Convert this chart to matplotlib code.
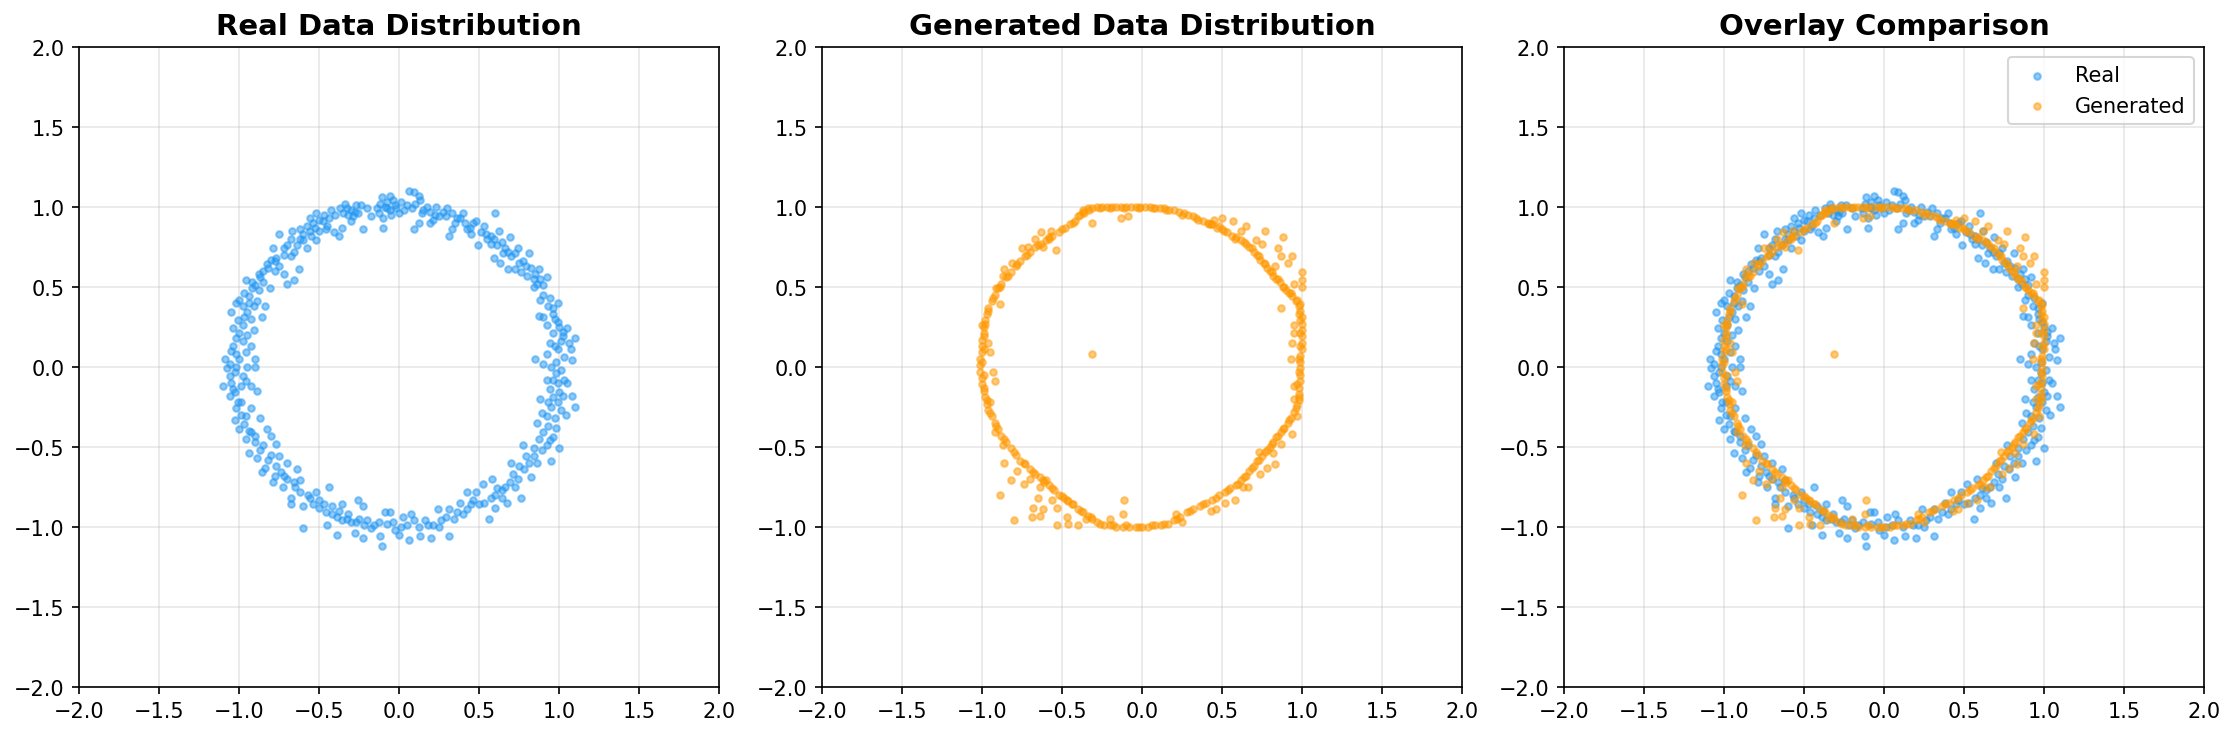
import numpy as np
import matplotlib
matplotlib.use("Agg")
import matplotlib.pyplot as plt

# real samples
real_pts = [
    (0.06, 1.10), (0.09, 1.09), (0.12, 1.07), (0.13, 1.04), (-0.06, 1.07), (-0.11, 1.06),
    (-0.08, 1.03), (-0.04, 1.04), (-0.02, 0.99), (-0.10, 0.87), (-0.10, 0.93), (-0.23, 0.86),
    (-0.27, 1.01), (-0.33, 0.99), (-0.34, 1.02), (-0.29, 0.94), (-0.37, 0.99), (-0.43, 0.98),
    (-0.52, 0.96), (-0.56, 0.93), (-0.48, 0.91), (-0.38, 0.82), (-0.41, 0.84), (-0.62, 0.86),
    (-0.67, 0.85), (-0.75, 0.83), (-0.68, 0.80), (-0.56, 0.85), (-0.58, 0.74), (-0.64, 0.76),
    (-0.79, 0.74), (-0.80, 0.67), (-0.83, 0.64), (-0.75, 0.63), (-0.63, 0.61), (-0.70, 0.52),
    (-0.66, 0.54), (-0.87, 0.56), (-0.96, 0.54), (-0.81, 0.49), (-0.92, 0.49), (-1.00, 0.42),
    (-1.02, 0.40), (-0.91, 0.38), (-0.84, 0.38), (-1.05, 0.34), (-0.95, 0.34), (-0.86, 0.31),
    (-1.04, 0.24), (-0.98, 0.26), (-0.91, 0.23), (-1.04, 0.13), (-0.98, 0.16), (-0.93, 0.13),
    (-1.09, 0.05), (-1.05, 0.10), (-1.00, 0.05), (-0.90, 0.05), (-1.08, -0.01), (-1.02, 0.00),
    (-0.90, -0.00), (-1.06, -0.06), (-0.98, -0.06), (-1.10, -0.12), (-1.04, -0.14), (-0.99, -0.12),
    (-0.93, -0.12), (-0.89, -0.15), (-1.06, -0.18), (-0.99, -0.22), (-1.02, -0.26), (-0.93, -0.26),
    (-1.03, -0.33), (-0.96, -0.31), (-0.87, -0.32), (-1.00, -0.39), (-0.93, -0.41), (-0.83, -0.39),
    (-0.96, -0.45), (-0.90, -0.43), (-0.80, -0.43), (-0.94, -0.54), (-0.85, -0.49), (-0.77, -0.48),
    (-0.89, -0.57), (-0.80, -0.55), (-0.75, -0.56), (-0.86, -0.66), (-0.84, -0.63), (-0.70, -0.60),
    (-0.78, -0.68), (-0.74, -0.66), (-0.64, -0.64), (-0.79, -0.72), (-0.70, -0.70), (-0.73, -0.75),
    (-0.65, -0.75), (-0.62, -0.71), (-0.68, -0.82), (-0.68, -0.86), (-0.60, -0.87), (-0.60, -1.01),
    (-0.56, -0.82), (-0.52, -0.78), (-0.44, -0.75), (-0.50, -0.83), (-0.50, -0.88), (-0.46, -0.91),
    (-0.42, -0.87), (-0.45, -0.99), (-0.39, -0.94), (-0.39, -1.05), (-0.36, -0.86), (-0.36, -0.96),
    (-0.32, -0.92), (-0.28, -1.04), (-0.26, -0.83), (-0.27, -0.97), (-0.23, -0.87), (-0.23, -1.07),
    (-0.20, -0.96), (-0.16, -0.99), (-0.12, -1.06), (-0.11, -1.12), (-0.09, -0.91), (-0.06, -0.91),
    (-0.04, -0.97), (0.00, -1.05), (0.02, -0.94), (0.06, -1.08), (0.07, -0.92), (0.09, -0.96),
    (0.13, -1.06), (0.16, -0.96), (0.20, -1.07), (0.21, -0.99), (0.24, -0.89), (0.25, -1.00),
    (0.31, -1.06), (0.31, -0.89), (0.34, -0.95), (0.38, -0.85), (0.42, -0.89), (0.42, -0.78),
    (0.46, -0.83), (0.48, -0.78), (0.52, -0.73), (0.56, -0.95), (0.53, -0.85), (0.58, -0.70),
    (0.60, -0.88), (0.61, -0.76), (0.64, -0.82), (0.66, -0.75), (0.67, -0.85), (0.70, -0.60),
    (0.71, -0.67), (0.72, -0.75), (0.76, -0.82), (0.75, -0.62), (0.77, -0.49), (0.79, -0.56),
    (0.82, -0.69), (0.84, -0.51), (0.86, -0.60), (0.87, -0.45), (0.86, -0.35), (0.92, -0.49),
    (0.96, -0.44), (1.00, -0.51), (0.95, -0.59), (0.93, -0.37), (0.89, -0.29), (0.97, -0.32),
    (0.95, -0.25), (0.88, -0.20), (0.99, -0.22), (1.04, -0.30), (1.10, -0.25), (1.00, -0.16),
    (1.08, -0.18), (0.94, -0.14), (0.96, -0.08), (1.03, -0.08), (0.98, -0.04), (0.92, -0.08),
    (0.90, 0.02), (0.98, 0.03), (1.08, 0.04), (0.85, 0.05), (0.92, 0.08), (0.99, 0.11),
    (1.07, 0.11), (0.94, 0.15), (1.06, 0.15), (1.10, 0.18), (1.02, 0.19), (0.96, 0.21),
    (1.05, 0.24), (0.92, 0.26), (0.99, 0.28), (0.90, 0.31), (0.96, 0.33), (0.87, 0.32),
    (0.93, 0.38), (0.99, 0.40), (0.88, 0.42), (0.84, 0.50), (0.90, 0.51), (0.92, 0.56),
    (0.87, 0.61), (0.84, 0.55), (0.80, 0.57), (0.76, 0.59), (0.72, 0.61), (0.68, 0.61),
    (0.75, 0.65), (0.81, 0.71), (0.74, 0.74), (0.70, 0.69), (0.69, 0.81), (0.65, 0.71),
    (0.63, 0.65), (0.59, 0.68), (0.61, 0.76), (0.57, 0.77), (0.62, 0.85), (0.55, 0.80),
    (0.49, 0.76), (0.53, 0.88), (0.48, 0.91), (0.45, 0.83), (0.42, 0.86), (0.60, 0.96),
    (0.46, 0.90), (0.40, 0.96), (0.36, 0.93), (0.33, 0.86), (0.31, 0.82), (0.30, 0.99),
    (0.25, 0.94), (0.23, 1.00), (0.21, 0.92), (0.19, 0.90), (0.17, 1.00), (0.14, 0.96),
    (0.12, 0.90), (0.09, 0.86), (0.08, 0.99), (0.05, 1.01), (0.00, 0.96), (-0.05, 0.95),
    (-0.08, 0.99), (-0.14, 0.99), (-0.18, 0.94), (-0.20, 0.99), (-0.24, 1.01), (-0.26, 0.96),
    (-0.30, 0.91), (-0.36, 0.87), (-0.45, 0.88), (-0.53, 0.87), (-0.52, 0.79), (-0.60, 0.79),
    (-0.72, 0.74), (-0.68, 0.69), (-0.77, 0.68), (-0.72, 0.58), (-0.85, 0.60), (-0.90, 0.51),
    (-0.94, 0.44), (-0.89, 0.41),
    # denser clusters
    (-0.30, 0.98), (-0.32, 0.95), (-0.28, 0.97), (-0.35, 0.96), (-0.40, 0.95), (-0.44, 0.93),
    (-0.47, 0.95), (-0.50, 0.92), (-0.54, 0.90), (-0.58, 0.88), (-0.46, 0.86), (-0.12, 1.02),
    (-0.09, 1.00), (-0.06, 0.98), (-0.03, 1.01), (0.01, 1.03), (0.03, 0.98), (-0.13, 0.96),
    (0.10, 1.02), (0.15, 0.98), (0.19, 0.97), (0.22, 0.95), (0.27, 0.97), (0.29, 0.94),
    (0.33, 0.96), (0.35, 0.90), (0.38, 0.93), (0.41, 0.90), (0.44, 0.87), (0.51, 0.84),
    (0.54, 0.83), (0.57, 0.82), (0.59, 0.80), (0.64, 0.78), (0.66, 0.74), (0.68, 0.72),
    (0.72, 0.71), (0.77, 0.66), (0.79, 0.63), (0.82, 0.62), (0.85, 0.58), (0.86, 0.52),
    (0.88, 0.55), (0.90, 0.45), (0.94, 0.43), (0.96, 0.37), (0.97, 0.30), (1.00, 0.25),
    (1.02, 0.22), (1.01, 0.16), (0.97, 0.13), (1.03, 0.06), (0.95, 0.00), (1.01, -0.02),
    (1.05, -0.10), (0.99, -0.10), (1.02, -0.18), (0.96, -0.19), (0.93, -0.22), (1.01, -0.27),
    (0.92, -0.31), (0.98, -0.38), (0.90, -0.41), (0.94, -0.46), (0.89, -0.52), (0.84, -0.56),
    (0.81, -0.60), (0.78, -0.64), (0.74, -0.70), (0.69, -0.72), (0.64, -0.77), (0.60, -0.80),
    (0.57, -0.82), (0.50, -0.86), (0.45, -0.86), (0.40, -0.92), (0.36, -0.91), (0.29, -0.94),
    (0.26, -0.96), (0.18, -0.99), (0.12, -1.00), (0.05, -0.99), (0.01, -1.00), (-0.03, -1.02),
    (-0.08, -0.98), (-0.13, -0.97), (-0.18, -1.01), (-0.22, -0.99), (-0.25, -0.95), (-0.30, -0.97),
    (-0.33, -0.95), (-0.38, -0.90), (-0.42, -0.92), (-0.47, -0.86), (-0.54, -0.86), (-0.57, -0.80),
    (-0.62, -0.78), (-0.66, -0.72), (-0.72, -0.68), (-0.77, -0.62), (-0.82, -0.58), (-0.87, -0.52),
    (-0.90, -0.47), (-0.94, -0.40), (-0.97, -0.36), (-0.99, -0.30), (-1.01, -0.22), (-1.03, -0.16),
    (-1.05, -0.10), (-0.96, -0.09), (-1.03, -0.03), (-0.95, 0.00), (-1.06, 0.02), (-1.02, 0.08),
    (-0.96, 0.09), (-1.02, 0.18), (-1.00, 0.21), (-0.95, 0.20), (-1.01, 0.29), (-0.97, 0.31),
    (-0.93, 0.30), (-0.98, 0.38), (-0.94, 0.40), (-0.97, 0.46), (-0.88, 0.48), (-0.92, 0.53),
    (-0.85, 0.53), (-0.88, 0.58), (-0.82, 0.62), (-0.78, 0.60), (-0.78, 0.66), (-0.72, 0.70),
    (-0.70, 0.76), (-0.66, 0.72), (-0.62, 0.80), (-0.60, 0.83), (-0.55, 0.82), (-0.50, 0.85),
]

# generated samples: the tight band plus the stray points
gen_band = [
    (-0.37, 0.97), (-0.40, 0.94), (-0.42, 0.91), (-0.37, 0.98), (-0.34, 0.99), (-0.31, 0.99),
    (-0.28, 1.00), (-0.25, 1.00), (-0.22, 1.00), (-0.19, 1.00), (-0.16, 1.00), (-0.13, 1.00),
    (-0.10, 1.00), (-0.07, 1.00), (-0.04, 1.00), (-0.01, 1.00), (0.02, 1.00), (0.05, 1.00),
    (0.08, 0.99), (0.11, 0.99), (0.14, 0.99), (0.17, 0.98), (0.20, 0.98), (0.23, 0.97),
    (0.26, 0.96), (0.29, 0.95), (0.32, 0.94), (0.35, 0.92), (0.38, 0.91), (0.41, 0.90),
    (0.44, 0.89), (0.47, 0.87), (0.50, 0.86), (0.53, 0.84), (0.56, 0.82), (0.59, 0.81),
    (0.62, 0.79), (0.65, 0.77), (0.67, 0.75), (0.70, 0.72), (0.72, 0.70), (0.74, 0.67),
    (0.76, 0.65), (0.78, 0.62), (0.80, 0.60), (0.82, 0.57), (0.84, 0.55), (0.86, 0.53),
    (0.88, 0.50), (0.90, 0.48), (0.92, 0.46), (0.94, 0.44), (0.96, 0.41), (0.98, 0.38),
    (0.99, 0.35), (1.00, 0.31), (1.00, 0.27), (1.00, 0.23), (1.00, 0.19), (1.00, 0.15),
    (1.00, 0.11), (0.99, 0.07), (0.99, 0.03), (0.99, -0.01), (0.99, -0.05), (0.99, -0.09),
    (0.98, -0.13), (0.98, -0.17), (0.98, -0.21), (0.97, -0.24), (0.95, -0.28), (0.93, -0.32),
    (0.91, -0.35), (0.89, -0.38), (0.87, -0.41), (0.84, -0.44), (0.82, -0.47), (0.80, -0.50),
    (0.77, -0.53), (0.75, -0.56), (0.72, -0.59), (0.70, -0.62), (0.67, -0.65), (0.65, -0.68),
    (0.62, -0.71), (0.59, -0.74), (0.55, -0.76), (0.52, -0.78), (0.48, -0.80), (0.44, -0.83),
    (0.40, -0.85), (0.36, -0.87), (0.32, -0.89), (0.28, -0.91), (0.24, -0.94), (0.20, -0.96),
    (0.16, -0.98), (0.12, -0.99), (0.08, -0.99), (0.04, -1.00), (0.00, -1.00), (-0.04, -1.00),
    (-0.08, -1.00), (-0.12, -1.00), (-0.16, -1.00), (-0.20, -0.99), (-0.24, -0.99), (-0.28, -0.97),
    (-0.31, -0.95), (-0.34, -0.93), (-0.37, -0.91), (-0.40, -0.89), (-0.43, -0.86), (-0.46, -0.84),
    (-0.49, -0.82), (-0.52, -0.80), (-0.55, -0.77), (-0.58, -0.74), (-0.61, -0.72), (-0.64, -0.69),
    (-0.67, -0.67), (-0.70, -0.64), (-0.73, -0.61), (-0.76, -0.59), (-0.79, -0.55), (-0.82, -0.51),
    (-0.85, -0.47), (-0.88, -0.43), (-0.90, -0.39), (-0.92, -0.35), (-0.94, -0.31), (-0.96, -0.27),
    (-0.97, -0.23), (-0.98, -0.19), (-0.99, -0.15), (-1.00, -0.11), (-1.00, -0.07), (-1.01, -0.03),
    (-1.01, 0.01), (-1.01, 0.05), (-1.00, 0.09), (-1.00, 0.13), (-1.00, 0.17), (-0.99, 0.21),
    (-0.99, 0.25), (-0.98, 0.29), (-0.97, 0.33), (-0.96, 0.37), (-0.94, 0.41), (-0.92, 0.45),
    (-0.90, 0.49), (-0.88, 0.52), (-0.85, 0.56), (-0.82, 0.59), (-0.79, 0.63), (-0.76, 0.66),
    (-0.73, 0.69), (-0.70, 0.72), (-0.67, 0.75), (-0.63, 0.77), (-0.60, 0.79), (-0.56, 0.82),
    (-0.52, 0.84), (-0.48, 0.87), (-0.45, 0.89),
    # second pass where the band is thicker
    (-0.36, 0.96), (-0.33, 0.98), (-0.26, 0.99), (-0.20, 0.99), (-0.11, 0.99), (-0.02, 0.99),
    (0.07, 0.99), (0.15, 0.98), (0.25, 0.95), (0.34, 0.93), (0.42, 0.89), (0.51, 0.85),
    (0.58, 0.80), (0.64, 0.78), (0.69, 0.74), (0.73, 0.69), (0.77, 0.64), (0.81, 0.59),
    (0.85, 0.55), (0.89, 0.50), (0.93, 0.46), (0.97, 0.42), (0.99, 0.39), (0.98, 0.33),
    (0.99, 0.29), (0.99, 0.21), (0.99, 0.13), (0.98, 0.05), (0.98, -0.03), (0.97, -0.11),
    (0.98, -0.19), (0.96, -0.26), (0.92, -0.33), (0.88, -0.39), (0.85, -0.43), (0.81, -0.48),
    (0.78, -0.52), (0.73, -0.58), (0.69, -0.63), (0.64, -0.69), (0.60, -0.73), (0.54, -0.77),
    (0.46, -0.82), (0.38, -0.86), (0.30, -0.90), (0.22, -0.95), (0.14, -0.98), (0.06, -0.99),
    (-0.02, -1.00), (-0.10, -0.99), (-0.18, -0.99), (-0.26, -0.98), (-0.32, -0.94), (-0.38, -0.90),
    (-0.44, -0.86), (-0.50, -0.81), (-0.56, -0.76), (-0.62, -0.71), (-0.68, -0.66), (-0.74, -0.60),
    (-0.80, -0.53), (-0.86, -0.45), (-0.91, -0.37), (-0.95, -0.29), (-0.97, -0.21), (-0.99, -0.13),
    (-0.99, -0.05), (-1.00, 0.03), (-0.99, 0.11), (-0.99, 0.19), (-0.98, 0.27), (-0.96, 0.35),
    (-0.93, 0.43), (-0.89, 0.50), (-0.84, 0.57), (-0.78, 0.64), (-0.72, 0.70), (-0.65, 0.76),
    (-0.58, 0.80), (-0.50, 0.86), (-0.43, 0.90), (-0.39, 0.95),
]
gen_stray = [
    (-0.31, 0.90), (-0.13, 0.93), (-0.09, 0.94), (-0.57, 0.85), (-0.63, 0.84), (-0.67, 0.80),
    (-0.75, 0.74), (-0.71, 0.75), (-0.54, 0.73), (-0.58, 0.81), (-0.62, 0.75), (-0.81, 0.65),
    (-0.86, 0.61), (-0.87, 0.57), (-0.91, 0.49), (-0.89, 0.39), (-1.00, 0.26), (-0.96, 0.15),
    (-0.95, 0.09), (-0.93, -0.03), (-0.92, -0.09), (-0.31, 0.08), (-0.95, -0.22), (-0.92, -0.41),
    (-0.87, -0.49), (-0.86, -0.60), (-0.82, -0.71), (-0.78, -0.65), (-0.74, -0.73), (-0.70, -0.70),
    (-0.64, -0.75), (-0.60, -0.71), (-0.89, -0.80), (-0.80, -0.96), (-0.69, -0.94), (-0.68, -0.88),
    (-0.65, -0.82), (-0.64, -0.93), (-0.62, -0.89), (-0.53, -0.99), (-0.46, -0.98), (-0.40, -0.99),
    (-0.47, -0.94), (-0.47, -0.83), (-0.53, -0.88), (-0.56, -0.83), (-0.11, -0.83), (-0.12, -0.92),
    (-0.20, -0.95), (-0.35, -0.95), (0.25, -0.97), (0.21, -0.92), (0.43, -0.90), (0.46, -0.89),
    (0.52, -0.85), (0.58, -0.83), (0.63, -0.75), (0.66, -0.75), (0.74, -0.67), (0.78, -0.63),
    (0.83, -0.61), (0.73, -0.53), (0.82, -0.54), (0.87, -0.48), (0.94, -0.42), (0.97, -0.31),
    (0.95, -0.20), (0.95, -0.12), (0.93, 0.05), (0.94, 0.15), (0.95, 0.21), (0.95, 0.26),
    (0.87, 0.37), (0.95, 0.52), (1.00, 0.50), (1.00, 0.54), (1.00, 0.59), (0.91, 0.65),
    (0.87, 0.69), (0.94, 0.69), (0.83, 0.63), (0.85, 0.74), (0.88, 0.81), (0.77, 0.85),
    (0.75, 0.77), (0.71, 0.79), (0.65, 0.88), (0.62, 0.85), (0.57, 0.91), (0.50, 0.93),
    (0.48, 0.88), (0.43, 0.89), (0.45, 0.92),
]

real = np.array(real_pts)
gen = np.array(gen_band + gen_stray)

blue = '#2196F3'
orange = '#FF9800'

fig = plt.figure(figsize=(14.9, 4.9133), dpi=150)
W, H = 2235, 737
lefts = [79.3, 822, 1564]
axs = [fig.add_axes([l / W, (H - 687.7) / H, 640 / W, 640 / H]) for l in lefts]

axs[0].scatter(real[:, 0], real[:, 1], s=10, alpha=0.5, c=blue)
axs[0].set_title('Real Data Distribution', fontsize=14, fontweight='bold')

axs[1].scatter(gen[:, 0], gen[:, 1], s=10, alpha=0.5, c=orange)
axs[1].set_title('Generated Data Distribution', fontsize=14, fontweight='bold')

axs[2].scatter(real[:, 0], real[:, 1], s=10, alpha=0.5, c=blue, label='Real')
axs[2].scatter(gen[:, 0], gen[:, 1], s=10, alpha=0.5, c=orange, label='Generated')
axs[2].set_title('Overlay Comparison', fontsize=14, fontweight='bold')
axs[2].legend(loc='upper right')

for ax in axs:
    ax.set_xlim(-2, 2)
    ax.set_ylim(-2, 2)
    ax.grid(True, alpha=0.3)
    ax.set_axisbelow(True)

fig.savefig('out.png', dpi=150)
